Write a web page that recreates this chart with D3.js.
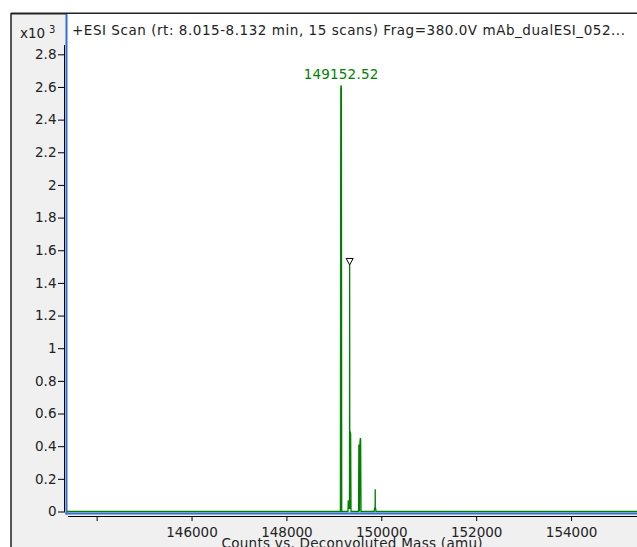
<!DOCTYPE html>
<html>
<head>
<meta charset="utf-8">
<script src="https://cdn.jsdelivr.net/npm/d3@7"></script>
<style>
  html, body { margin: 0; padding: 0; background: #ffffff; }
  svg { display: block; }
  text { font-family: "DejaVu Sans", sans-serif; }
</style>
</head>
<body>
<div id="chart"></div>
<script>
// spectrum: mass (amu) and counts (x10^3)
const massPts = [
  143300, 149138, 149146, 149152.52, 149159, 149166,
  149298, 149304, 149320, 149326, 149330, 149333, 149336, 149342, 149348, 149354, 149362,
  149520, 149527, 149533, 149540, 149550, 149558, 149565, 149572,
  149850, 149858, 149866, 149870, 149872, 149874, 149880, 149888,
  155500
];
const countPts = [
  0, 0, 2.59, 2.61, 2.59, 0,
  0, 0.065, 0.065, 0.02, 0.02, 1.51, 0.02, 0.02, 0.49, 0.47, 0,
  0, 0.41, 0.40, 0, 0.42, 0.45, 0.44, 0,
  0, 0.02, 0.02, 0.02, 0.136, 0.02, 0.02, 0,
  0
];

const peakLabelMass = 149152.52;
const peakLabelCount = 2.61;
const markerMass = 149333;
const markerCount = 1.51;

const xTickValues = [144000, 146000, 148000, 150000, 152000, 154000];
const xTickLabels = ["", "146000", "148000", "150000", "152000", "154000"];
const yTickValues = [0, 0.2, 0.4, 0.6, 0.8, 1, 1.2, 1.4, 1.6, 1.8, 2, 2.2, 2.4, 2.6, 2.8];
const yTickLabels = ["0", "0.2", "0.4", "0.6", "0.8", "1", "1.2", "1.4", "1.6", "1.8", "2", "2.2", "2.4", "2.6", "2.8"];

const titleText = "+ESI Scan (rt: 8.015-8.132 min, 15 scans) Frag=380.0V mAb_dualESI_052...";
const xAxisTitle = "Counts vs. Deconvoluted Mass (amu)";

// ----- layout -----
const W = 637, H = 547;
const plot = { left: 67, right: 637, top: 14, bottom: 513 };

const svg = d3.select("#chart").append("svg")
  .attr("width", W)
  .attr("height", H);

// outer frame, gray panel
svg.append("rect")
  .attr("x", 11).attr("y", 13)
  .attr("width", W - 11).attr("height", H - 13)
  .attr("fill", "#f0f0f0");
svg.append("line")
  .attr("x1", 11).attr("x2", W).attr("y1", 13.5).attr("y2", 13.5)
  .attr("stroke", "#222").attr("stroke-width", 2);
svg.append("line")
  .attr("x1", 11).attr("x2", 11).attr("y1", 13).attr("y2", H)
  .attr("stroke", "#222").attr("stroke-width", 1.5);

// plot area
svg.append("rect")
  .attr("x", plot.left).attr("y", plot.top)
  .attr("width", plot.right - plot.left).attr("height", plot.bottom - plot.top)
  .attr("fill", "#ffffff");

// ----- scales -----
const x = d3.scaleLinear()
  .domain([143375, 155390])
  .range([plot.left, plot.right]);

const y = d3.scaleLinear()
  .domain([0, 2.8])
  .range([511.5, 54.3]);

// clip for the trace
svg.append("clipPath").attr("id", "plotClip")
  .append("rect")
  .attr("x", plot.left).attr("y", plot.top)
  .attr("width", plot.right - plot.left).attr("height", plot.bottom - plot.top + 1);

// ----- spectrum -----
const spectrum = massPts.map((m, i) => ({ m: m, c: countPts[i] }));

const line = d3.line()
  .x(d => x(d.m))
  .y(d => y(d.c));

svg.append("path")
  .datum(spectrum)
  .attr("clip-path", "url(#plotClip)")
  .attr("fill", "none")
  .attr("stroke", "#008000")
  .attr("stroke-width", 1.3)
  .attr("d", line);

// peak label
svg.append("text")
  .attr("x", x(peakLabelMass))
  .attr("y", y(peakLabelCount) - 6)
  .attr("text-anchor", "middle")
  .attr("fill", "#008000")
  .style("font-size", "13.5px")
  .style("letter-spacing", "0.2px")
  .text(peakLabelMass.toFixed(2));

// marker triangle
const mx = x(markerMass), my = y(markerCount);
svg.append("path")
  .attr("d", `M${mx - 3.5},${my - 6.5}L${mx + 3.5},${my - 6.5}L${mx},${my}Z`)
  .attr("fill", "#ffffff")
  .attr("stroke", "#000")
  .attr("stroke-width", 1);

// blue plot border (left + bottom)
svg.append("line")
  .attr("x1", plot.left - 0.5).attr("x2", plot.left - 0.5)
  .attr("y1", plot.top).attr("y2", plot.bottom + 1.5)
  .attr("stroke", "#2f6fd8").attr("stroke-width", 2);
svg.append("line")
  .attr("x1", plot.left - 1.5).attr("x2", plot.right)
  .attr("y1", plot.bottom + 0.5).attr("y2", plot.bottom + 0.5)
  .attr("stroke", "#2f6fd8").attr("stroke-width", 2);

// ----- axes -----
const xAxis = d3.axisBottom(x)
  .tickValues(xTickValues)
  .tickFormat((d, i) => xTickLabels[i])
  .tickSize(5)
  .tickPadding(6);

const gx = svg.append("g")
  .attr("transform", "translate(0,516)")
  .call(xAxis);
gx.select(".domain").remove();
gx.selectAll(".tick line").attr("stroke", "#000");
gx.selectAll("text")
  .attr("fill", "#222")
  .style("font-size", "13.5px")
  .style("font-family", "DejaVu Sans");
svg.append("line")
  .attr("x1", plot.left + 1).attr("x2", plot.right)
  .attr("y1", 516.5).attr("y2", 516.5)
  .attr("stroke", "#000").attr("stroke-width", 1);

const yAxis = d3.axisLeft(y)
  .tickValues(yTickValues)
  .tickFormat((d, i) => yTickLabels[i])
  .tickSize(7)
  .tickPadding(1.5);

const gy = svg.append("g")
  .attr("transform", "translate(65,0)")
  .call(yAxis);
gy.select(".domain").remove();
gy.selectAll(".tick line").attr("stroke", "#000");
gy.selectAll("text")
  .attr("fill", "#222")
  .style("font-size", "13.5px")
  .style("font-family", "DejaVu Sans");
svg.append("line")
  .attr("x1", 64.5).attr("x2", 64.5)
  .attr("y1", 45).attr("y2", 512)
  .attr("stroke", "#000").attr("stroke-width", 1);

// exponent label
svg.append("text")
  .attr("x", 20).attr("y", 38)
  .attr("fill", "#222")
  .style("font-size", "13.5px")
  .text("x10");
svg.append("text")
  .attr("x", 49).attr("y", 33)
  .attr("fill", "#222")
  .style("font-size", "10px")
  .text("3");

// title
svg.append("text")
  .attr("x", 72).attr("y", 35)
  .attr("fill", "#222")
  .style("font-size", "13.5px")
  .attr("textLength", 553)
  .attr("lengthAdjust", "spacing")
  .text(titleText);

// x axis title (cut off by the window bottom)
svg.append("text")
  .attr("x", (plot.left + plot.right) / 2)
  .attr("y", 548)
  .attr("text-anchor", "middle")
  .attr("fill", "#222")
  .style("font-size", "13.5px")
  .attr("textLength", 261)
  .attr("lengthAdjust", "spacing")
  .text(xAxisTitle);
</script>
</body>
</html>
